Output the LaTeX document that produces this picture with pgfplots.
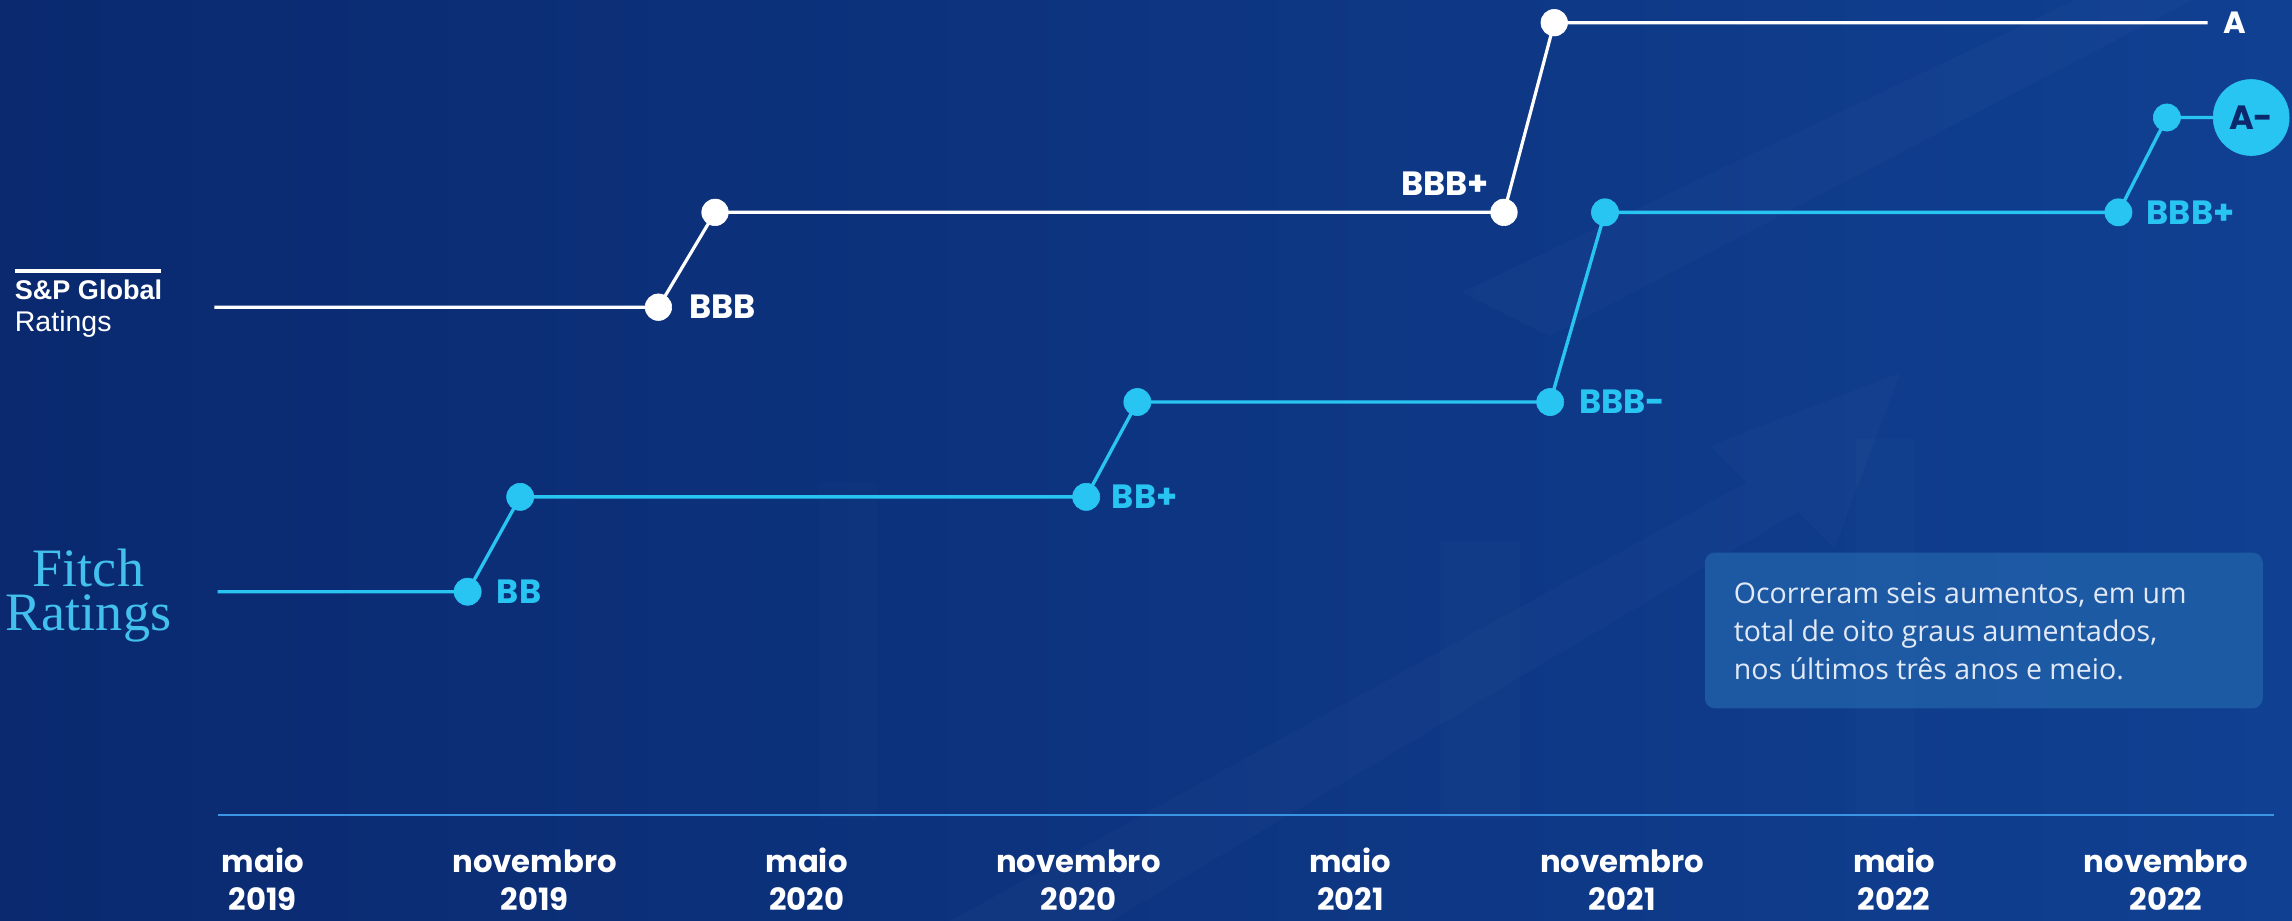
\documentclass[border=0pt]{standalone}
\usepackage{fontspec}
\setmainfont{Open Sans}
\newfontfamily\pop{Poppins}
\newfontfamily\lsans{Liberation Sans}
\newfontfamily\fserif{Liberation Serif}
\usepackage{pgfplots}
\pgfplotsset{compat=1.18}

\definecolor{bgL}{RGB}{10,41,111}
\definecolor{bgR}{RGB}{16,64,146}
\definecolor{fitchc}{RGB}{40,196,242}
\definecolor{fitchlogo}{RGB}{66,192,238}
\definecolor{basec}{RGB}{58,150,228}
\definecolor{boxc}{RGB}{32,95,168}
\definecolor{navyt}{RGB}{12,40,108}
\definecolor{boxtext}{RGB}{226,233,246}

\newcommand{\lbl}{\pop\bfseries\fontsize{23}{23}\selectfont}
\newcommand{\lbltick}{\pop\bfseries\fontsize{21}{21}\selectfont}

\begin{document}
\begin{tikzpicture}
% background, in picture units (1pt = 1 px of a 1568x630 frame)
\shade[left color=bgL, right color=bgR] (0,0) rectangle (1568pt,630pt);
\begin{scope}[shift={(0,630pt)}, x=1pt, y=-1pt]
  % faint arrows and columns in the backdrop
  \fill[white, opacity=0.018] (650,630) -- (1195,330) -- (1170,305) -- (1300,255)
        -- (1255,375) -- (1230,350) -- (760,630) -- cycle;
  \fill[white, opacity=0.018] (1000,200) -- (1420,0) -- (1500,0) -- (1060,230) -- cycle;
  \fill[white, opacity=0.015] (985,370) rectangle (1040,560);
  \fill[white, opacity=0.015] (1270,300) rectangle (1310,560);
  \fill[white, opacity=0.012] (560,330) rectangle (600,560);
  % S&P logo
  \fill[white] (10.3,184) rectangle (110.2,187);
  \node[anchor=base west, inner sep=0pt, text=white, text depth=0pt,
        font=\lsans\bfseries\fontsize{18.5}{18.5}\selectfont] at (10,205.2) {S\&P Global};
  \node[anchor=base west, inner sep=0pt, text=white, text depth=0pt,
        font=\lsans\fontsize{19.5}{19.5}\selectfont] at (10,226.9) {Ratings};
  % Fitch logo
  \node[anchor=base, align=center, inner sep=0pt, text=fitchlogo,
        font=\fserif\fontsize{37}{29.5}\selectfont] at (60.5,431) {Fitch\\Ratings};
  % note box
  \fill[boxc, opacity=0.85, rounded corners=7pt] (1166.3,378) rectangle (1548,484.6);
  \begin{scope}[every node/.style={anchor=base west, inner sep=0pt, text=boxtext,
        font=\fontsize{19.5}{19.5}\selectfont}]
    \node at (1186,413) {Ocorreram seis aumentos, em um};
    \node at (1186,439) {total de oito graus aumentados,};
    \node at (1186,465) {nos últimos três anos e meio.};
  \end{scope}
\end{scope}

\begin{axis}[
  at={(0,0)}, anchor=south west,
  scale only axis, width=1568pt, height=630pt,
  xmin=-5.8, xmax=44.78, ymin=-3.471, ymax=6.2392,
  axis line style={draw=none}, tick style={draw=none}, major tick length=0pt,
  ytick=\empty,
  xtick={0,6,...,42},
  xticklabels={maio,novembro,maio,novembro,maio,novembro,maio,novembro},
  xticklabel style={anchor=base, inner sep=0pt, text depth=0pt, yshift=33pt,
    text=white, font=\lbltick},
  extra x ticks={0,6,...,42},
  extra x tick labels={2019,2019,2020,2020,2021,2021,2022,2022},
  extra x tick style={xticklabel style={yshift=-26pt}},
  clip=false,
]
% time line
\draw[basec, line width=1.4pt] (axis cs:-1.0,-2.358) -- (axis cs:44.38,-2.358);

% S&P Global Ratings (0 = BB ... 6 = A)
\addplot[white, line width=2.2pt] coordinates {
  (-1.07,3) (8.73,3) (9.98,4) (27.39,4) (28.5,6) (42.92,6)};
\addplot[only marks, mark=*, mark size=9.1pt, white, mark options={draw=none}] coordinates {
  (8.73,3) (9.98,4) (27.39,4) (28.5,6)};

% Fitch Ratings
\addplot[fitchc, line width=2.3pt] coordinates {
  (-1.0,0) (4.52,0) (5.68,1) (18.17,1) (19.3,2) (28.41,2) (29.62,4) (40.95,4) (42.02,5) (43.88,5)};
\addplot[only marks, mark=*, mark size=9.3pt, fitchc, mark options={draw=none}] coordinates {
  (4.52,0) (5.68,1) (18.17,1) (19.3,2) (28.41,2) (29.62,4) (40.95,4) (42.02,5)};
\addplot[only marks, mark=*, mark size=26pt, fitchc, mark options={draw=none},
  point meta=explicit symbolic, nodes near coords,
  every node near coord/.style={anchor=center, inner sep=0pt, text=navyt, font=\lbl}]
  coordinates {(43.88,5) [A-]};

% rating labels
\begin{scope}[every node/.style={inner sep=0pt, font=\lbl}]
  \node[anchor=west, text=white] at (axis cs:9.41,3) {BBB};
  \node[anchor=east, text=white] at (axis cs:27.06,4.3) {BBB+};
  \node[anchor=west, text=white, font=\pop\bfseries\fontsize{21}{21}\selectfont] at (axis cs:43.26,6) {A};
  \node[anchor=west, text=fitchc] at (axis cs:5.16,0) {BB};
  \node[anchor=west, text=fitchc] at (axis cs:18.73,1) {BB+};
  \node[anchor=west, text=fitchc] at (axis cs:29.05,2) {BBB-};
  \node[anchor=west, text=fitchc] at (axis cs:41.57,4) {BBB+};
\end{scope}
\end{axis}
\pgfresetboundingbox
\path[use as bounding box] (0,0) rectangle (1568pt,630pt);
\end{tikzpicture}
\end{document}
